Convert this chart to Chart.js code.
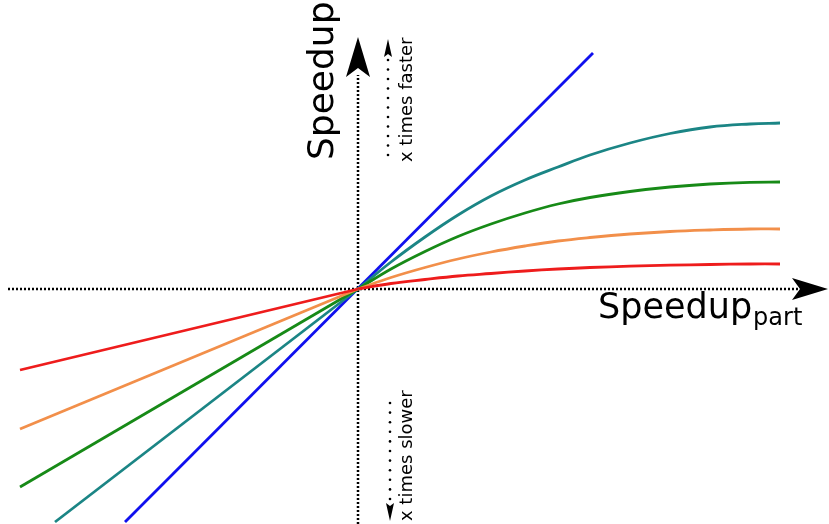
<!DOCTYPE html>
<html><head><meta charset="utf-8">
<script src="https://cdn.jsdelivr.net/npm/chart.js@4/dist/chart.umd.min.js"></script>
<style>html,body{margin:0;padding:0;background:#fff;}#wrap{width:829px;height:524px;}</style>
</head><body><div id="wrap"><canvas id="c" width="829" height="524"></canvas></div>
<script>
// Schematic data (axis units: origin at 0,0)
const xPos      = [0, 0.33, 0.67, 1.00, 1.33, 1.67, 2.00, 2.32, 2.72, 3.12, 3.52, 3.92, 4.22];
const tealPos   = [0, 0.27, 0.52, 0.74, 0.93, 1.09, 1.22, 1.34, 1.46, 1.555, 1.62, 1.65, 1.66];
const greenPos  = [0, 0.20, 0.375, 0.525, 0.65, 0.76, 0.85, 0.915, 0.975, 1.02, 1.05, 1.067, 1.07];
const orangePos = [0, 0.115, 0.215, 0.30, 0.37, 0.43, 0.48, 0.515, 0.55, 0.575, 0.59, 0.60, 0.60];
const redPos    = [0, 0.055, 0.095, 0.13, 0.155, 0.18, 0.20, 0.215, 0.228, 0.238, 0.245, 0.25, 0.25];
// negative-side end points [x, y] (straight to origin)
const tealNeg   = [-3.03, -2.33];
const greenNeg  = [-3.38, -1.98];
const orangeNeg = [-3.38, -1.40];
const redNeg    = [-3.38, -0.81];
const blueX = [-2.33, 2.35];
const blueY = [-2.33, 2.36];
// axes extents
const xAxisRange = [-3.50, 4.42];
const yAxisRange = [-2.35, 2.14];
const labels = { yTitle: 'Speedup', xTitle: 'Speedup', xSub: 'part', up: 'x times faster', down: 'x times slower' };

const colors = { red: '#ee1c1c', orange: '#f28f4a', green: '#178a17', teal: '#1b8585', blue: '#1010ee' };

function posCurve(ys) { return xPos.map((x, i) => ({x: x, y: ys[i]})); }
function negLine(neg) { return [{x: neg[0], y: neg[1]}, {x: 0, y: 0}]; }

const deco = {
  id: 'deco',
  afterDatasetsDraw(chart) {
    const ctx = chart.ctx, xs = chart.scales.x, ys = chart.scales.y;
    const X = v => xs.getPixelForValue(v), Y = v => ys.getPixelForValue(v);
    const ox = X(0), oy = Y(0);
    ctx.save();
    ctx.fillStyle = '#000';
    // big arrowheads
    const yt = Y(2.52);
    ctx.beginPath();
    ctx.moveTo(ox, yt); ctx.lineTo(ox - 12, yt + 40); ctx.lineTo(ox, yt + 31); ctx.lineTo(ox + 12, yt + 40); ctx.closePath(); ctx.fill();
    const xt = X(4.70);
    ctx.beginPath();
    ctx.moveTo(xt, oy); ctx.lineTo(xt - 36, oy - 11); ctx.lineTo(xt - 28, oy); ctx.lineTo(xt - 36, oy + 11); ctx.closePath(); ctx.fill();
    // small dotted arrows
    const ax = ox + 30;
    for (let py = 155; py >= 60; py -= 9.5) { ctx.beginPath(); ctx.arc(ax, py, 1.3, 0, Math.PI * 2); ctx.fill(); }
    ctx.beginPath(); ctx.moveTo(ax, 39); ctx.lineTo(ax - 4, 57); ctx.lineTo(ax, 54); ctx.lineTo(ax + 4, 57); ctx.closePath(); ctx.fill();
    const bx = ox + 32;
    for (let py = 403; py <= 500; py += 9.6) { ctx.beginPath(); ctx.arc(bx, py, 1.3, 0, Math.PI * 2); ctx.fill(); }
    ctx.beginPath(); ctx.moveTo(bx, 521); ctx.lineTo(bx - 4, 503); ctx.lineTo(bx, 506); ctx.lineTo(bx + 4, 503); ctx.closePath(); ctx.fill();
    // texts
    ctx.textBaseline = 'alphabetic'; ctx.textAlign = 'left';
    ctx.save(); ctx.translate(333, 160); ctx.rotate(-Math.PI / 2);
    ctx.font = '36px "DejaVu Sans"'; ctx.fillText(labels.yTitle, 0, 0); ctx.restore();
    ctx.save(); ctx.translate(412, 162); ctx.rotate(-Math.PI / 2);
    ctx.font = '18px "DejaVu Sans"'; ctx.fillText(labels.up, 0, 0); ctx.restore();
    ctx.save(); ctx.translate(412, 521); ctx.rotate(-Math.PI / 2);
    ctx.font = '18px "DejaVu Sans"'; ctx.fillText(labels.down, 0, 0); ctx.restore();
    ctx.font = '35px "DejaVu Sans"'; ctx.fillText(labels.xTitle, 598, 318);
    const w = ctx.measureText(labels.xTitle).width;
    ctx.font = '24px "DejaVu Sans"'; ctx.fillText(labels.xSub, 598 + w + 1, 325);
    ctx.restore();
  }
};

const posDs = (data, color) => ({ data, borderColor: color, borderWidth: 2.8, pointRadius: 0, fill: false, tension: 0.4, order: 1 });
const negDs = (data, color) => ({ data, borderColor: color, borderWidth: 2.8, pointRadius: 0, fill: false, tension: 0, order: 1 });

new Chart(document.getElementById('c'), {
  type: 'line',
  data: {
    datasets: [
      { data: [{x: xAxisRange[0], y: 0}, {x: xAxisRange[1], y: 0}], borderColor: '#000', borderWidth: 2.5, borderDash: [2, 2], pointRadius: 0, order: 10 },
      { data: [{x: 0, y: yAxisRange[0]}, {x: 0, y: yAxisRange[1]}], borderColor: '#000', borderWidth: 2.5, borderDash: [2, 2], pointRadius: 0, order: 10 },
      negDs(negLine(redNeg), colors.red),
      negDs(negLine(orangeNeg), colors.orange),
      negDs(negLine(greenNeg), colors.green),
      negDs(negLine(tealNeg), colors.teal),
      posDs(posCurve(redPos), colors.red),
      posDs(posCurve(orangePos), colors.orange),
      posDs(posCurve(greenPos), colors.green),
      posDs(posCurve(tealPos), colors.teal),
      negDs([{x: blueX[0], y: blueY[0]}, {x: blueX[1], y: blueY[1]}], colors.blue)
    ]
  },
  options: {
    responsive: false, animation: false, devicePixelRatio: 1,
    layout: { padding: 0 },
    plugins: { legend: { display: false }, tooltip: { enabled: false } },
    scales: {
      x: { type: 'linear', min: -3.58, max: 4.71, display: false },
      y: { type: 'linear', min: -2.35, max: 2.89, display: false }
    }
  },
  plugins: [deco]
});
</script></body></html>
